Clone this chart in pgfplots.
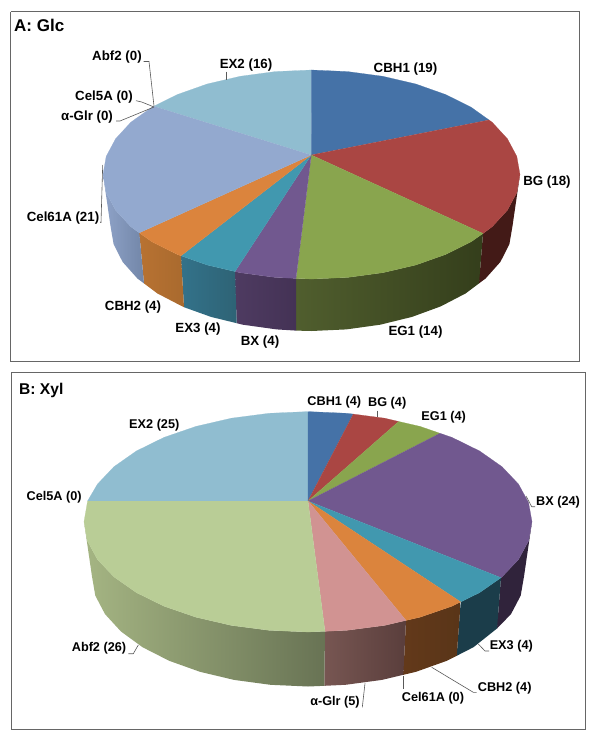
\documentclass[border=0pt]{standalone}
\usepackage{fontspec}
\setmainfont{Liberation Sans}
\usepackage{pgfplots}
\pgfplotsset{compat=1.18}
\newcommand{\dc}[1]{\definecolor{c#1}{HTML}{#1}}
\dc{4572A7}\dc{AA4643}\dc{89A54E}\dc{71588F}\dc{4198AF}\dc{DB843D}\dc{93A9CF}\dc{D19392}\dc{B9CD96}\dc{90BDD0}
\dc{431A17}\dc{505E2E}\dc{343E1B}\dc{4E3B61}\dc{443255}\dc{33728A}\dc{2E6375}\dc{B87232}\dc{A96A2E}\dc{8FA3C8}\dc{7286A8}
\dc{30233B}\dc{1B3D4A}\dc{63391A}\dc{593518}\dc{775652}\dc{5A3E3C}\dc{A5B583}\dc{687354}\dc{595959}\dc{666666}
\newcommand{\poly}[2]{\addplot[fill=c#1,draw=c#1,line width=0.2pt,mark=none] coordinates {#2};}
\newcommand{\side}[3]{\addplot[left color=c#1,right color=c#2,draw=none,mark=none] coordinates {#3};}
\newcommand{\leader}[1]{\addplot[draw=c595959,line width=0.6pt,mark=none] coordinates {#1};}
\newcommand{\la}[2]{\node[font=\fontsize{13.3bp}{15bp}\selectfont\bfseries,text=black,inner sep=0pt] at (axis cs:#1) {#2};}
\newcommand{\lb}[2]{\node[font=\fontsize{12.7bp}{15bp}\selectfont\bfseries,text=black,inner sep=0pt] at (axis cs:#1) {#2};}
\begin{document}
\begin{tikzpicture}
\begin{axis}[scale only axis,width=600bp,height=745bp,xmin=0,xmax=600,ymin=0,ymax=745,y dir=reverse,hide axis,clip=false]
\addplot[fill=white,draw=none,mark=none] coordinates {(0,0)(600,0)(600,745)(0,745)};
\addplot[draw=c666666,line width=0.9pt,mark=none] coordinates {(10.5,11.7)(579.3,11.7)(579.3,361)(10.5,361)(10.5,11.7)};
\addplot[draw=c666666,line width=0.9pt,mark=none] coordinates {(11,372.3)(585,372.3)(585,729.3)(11,729.3)(11,372.3)};
% --- Pie A sides
\side{431A17}{431A17}{(520,174.5)(516.8,192.6)(507.4,210.2)(492.1,226.8)(483,233.5)(479,283.4)(485.6,278.5)(500.4,261.9)(509.4,244.2)(512.5,226)}
\side{505E2E}{343E1B}{(483,233.5)(471.2,241.7)(445.5,254.5)(415.8,265)(382.8,272.7)(347.7,277.4)(311.5,279)(296,278.4)(296,330.6)(311.5,331)(346.4,329.4)(380.2,324.7)(412,316.9)(440.7,306.4)(465.5,293.5)(479,283.4)}
\side{4E3B61}{443255}{(296,278.4)(275.3,277.4)(240.2,272.7)(235,271.5)(236.7,323.2)(242.8,324.7)(276.6,329.4)(296,330.6)}
\side{33728A}{2E6375}{(235,271.5)(207.2,265)(181,255.8)(184,307.2)(211,316.9)(236.7,323.2)}
\side{B87232}{A96A2E}{(181,255.8)(177.5,254.5)(151.8,241.7)(139.3,232.8)(144,283.4)(157.5,293.5)(182.3,306.4)(184,307.2)}
\side{8FA3C8}{7286A8}{(139.3,232.8)(130.9,226.8)(115.6,210.2)(106.2,192.6)(103,174.5)(110.5,226)(113.6,244.2)(122.6,261.9)(137.4,278.5)(144,283.4)}
% --- Pie A top
\poly{90BDD0}{(311.3,155)(154,106.2)(177.5,94.5)(207.2,84)(240.2,76.3)(275.3,71.6)(311.5,70)}
\poly{4572A7}{(311.3,155)(311.5,70)(347.7,71.6)(382.8,76.3)(415.8,84)(445.5,94.5)(471.2,107.3)(489,120)}
\poly{AA4643}{(311.3,155)(489,120)(492.1,122.2)(507.4,138.8)(516.8,156.4)(520,174.5)(516.8,192.6)(507.4,210.2)(492.1,226.8)(483,233.5)}
\poly{89A54E}{(311.3,155)(483,233.5)(471.2,241.7)(445.5,254.5)(415.8,265)(382.8,272.7)(347.7,277.4)(311.5,279)(296,278.4)}
\poly{71588F}{(311.3,155)(296,278.4)(275.3,277.4)(240.2,272.7)(235,271.5)}
\poly{4198AF}{(311.3,155)(235,271.5)(207.2,265)(181,255.8)}
\poly{DB843D}{(311.3,155)(181,255.8)(177.5,254.5)(151.8,241.7)(139.3,232.8)}
\poly{93A9CF}{(311.3,155)(139.3,232.8)(130.9,226.8)(115.6,210.2)(106.2,192.6)(103,174.5)(106.2,156.4)(115.6,138.8)(130.9,122.2)(151.8,107.3)(154,106.2)}
% --- Pie A leaders
\leader{(143.5,61.5)(149,61.5)(154,106)}
\leader{(136,100.7)(141.7,102)(154,107)}
\leader{(116,121)(120,121)(154,107)}
\leader{(226.7,71.7)(226.7,80)}
\leader{(100,222.7)(101,222.7)(102.7,165)}
% --- Pie A labels
\node[font=\fontsize{17bp}{20bp}\selectfont\bfseries,anchor=west,inner sep=0pt] at (axis cs:14,25) {A: Glc};
\la{117,57}{Abf2 (0)}
\la{246,65}{EX2 (16)}
\la{104,97}{Cel5A (0)}
\la{87,117}{α-Glr (0)}
\la{63,218}{Cel61A (21)}
\la{133,307}{CBH2 (4)}
\la{198,329}{EX3 (4)}
\la{260,342}{BX (4)}
\la{405.5,69}{CBH1 (19)}
\la{547,182}{BG (18)}
\la{415.5,332}{EG1 (14)}
% --- Pie B sides
\side{30233B}{30233B}{(532,521.8)(528.6,540.9)(518.5,559.5)(502,576.9)(501,577.7)(497,628.5)(511,614.1)(520.7,595.6)(524,576.5)}
\side{1B3D4A}{1B3D4A}{(501,577.7)(479.6,592.6)(460.7,601.9)(456.7,655.8)(473.5,647.2)(497,628.5)}
\side{63391A}{593518}{(460.7,601.9)(452,606.2)(420,617.2)(406,620.4)(403.3,674.8)(416,671.8)(446.8,660.8)(456.7,655.8)}
\side{775652}{5A3E3C}{(406,620.4)(384.6,625.4)(346.9,630.3)(325,631.3)(324.3,685.8)(345.5,684.8)(381.9,679.9)(403.3,674.8)}
\side{A5B583}{687354}{(325,631.3)(308,632)(269.1,630.3)(231.4,625.4)(196,617.2)(164,606.2)(136.4,592.6)(114,576.9)(97.5,559.5)(87.4,540.9)(84,521.8)(92,576.5)(95.3,595.6)(105,614.1)(121,631.5)(142.5,647.2)(169.2,660.8)(200,671.8)(234.1,679.9)(270.5,684.8)(308,686.5)(324.3,685.8)}
% --- Pie B top
\poly{90BDD0}{(308,501)(87.6,501)(97.5,484.1)(114,466.7)(136.4,451)(164,437.4)(196,426.4)(231.4,418.2)(269.1,413.3)(308,411.6)}
\poly{4572A7}{(308,501)(308,411.6)(346.9,413.3)(353.3,414.1)}
\poly{AA4643}{(308,501)(353.3,414.1)(384.6,418.2)(398.7,421.5)}
\poly{89A54E}{(308,501)(398.7,421.5)(420,426.4)(440,433.3)}
\poly{71588F}{(308,501)(440,433.3)(452,437.4)(479.6,451)(502,466.7)(518.5,484.1)(528.6,502.7)(532,521.8)(528.6,540.9)(518.5,559.5)(502,576.9)(501,577.7)}
\poly{4198AF}{(308,501)(501,577.7)(479.6,592.6)(460.7,601.9)}
\poly{DB843D}{(308,501)(460.7,601.9)(452,606.2)(420,617.2)(406,620.4)}
\poly{D19392}{(308,501)(406,620.4)(384.6,625.4)(346.9,630.3)(325,631.3)}
\poly{B9CD96}{(308,501)(325,631.3)(308,632)(269.1,630.3)(231.4,625.4)(196,617.2)(164,606.2)(136.4,592.6)(114,576.9)(97.5,559.5)(87.4,540.9)(84,521.8)(87.6,501)}
% --- Pie B leaders
\leader{(128.3,653.7)(133.3,653.7)(138.3,645)}
\leader{(362.3,707.3)(365,683.3)}
\leader{(403.3,676)(403.3,689.3)}
\leader{(431.7,667.3)(473.3,692.3)(476.7,692.3)}
\leader{(478.3,644)(485,651)(489,651)}
\leader{(526,496)(531.7,506.7)(535,506.7)}
\leader{(377.3,410.7)(377.3,416.7)}
% --- Pie B labels
\node[font=\fontsize{15.6bp}{20bp}\selectfont\bfseries,anchor=west,inner sep=0pt] at (axis cs:19,390.7) {B: Xyl};
\lb{154.3,425.7}{EX2 (25)}
\lb{54.2,497}{Cel5A (0)}
\lb{99,648.7}{Abf2 (26)}
\lb{335,702.3}{α-Glr (5)}
\lb{433,698.3}{Cel61A (0)}
\lb{504.7,688}{CBH2 (4)}
\lb{511.3,646.3}{EX3 (4)}
\lb{558,502.3}{BX (24)}
\lb{443.7,417.7}{EG1 (4)}
\lb{387.2,403}{BG (4)}
\lb{334.3,402}{CBH1 (4)}
\end{axis}
\end{tikzpicture}
\end{document}
